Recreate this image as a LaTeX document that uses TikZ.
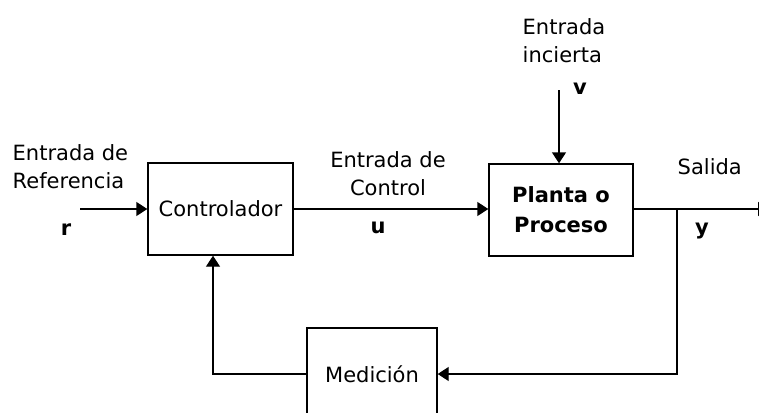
\documentclass[tikz,border=0pt]{standalone}
\usepackage{fontspec}
\setmainfont{DejaVu Sans}
\usetikzlibrary{arrows.meta,calc}

\begin{document}
\begin{tikzpicture}[x=0.5pt,y=-0.5pt,line width=0.7pt,
    font=\fontsize{10.5}{14}\selectfont,
    >={Triangle[length=5.5pt,width=7pt]},
    block/.style={draw,minimum height=46pt},
    lbl/.style={inner sep=0pt,align=left},
    sig/.style={inner sep=0pt,font=\fontsize{10.5}{14}\selectfont\bfseries}]
  \useasboundingbox (0,0) rectangle (759,412);
  \clip (0,0) rectangle (759,412);

  % draw the blocks first
  \node [block,minimum width=72.5pt] (ctrl) at (220.5,209) {Controlador};
  \node [block,minimum width=72pt,align=center,font=\fontsize{10.5}{15}\selectfont\bfseries]
    (plant) at (561,210) {Planta o\\Proceso};
  \node [block,minimum width=65pt] (med) at (372,374) {Medición};

  % free ends of the signals
  \coordinate (rin) at (80,209);
  \coordinate (vin) at (559,90);
  \coordinate (yb) at (677,209);
  \coordinate (yout) at (769,209);
  \coordinate (fb) at (213,0);

  % forward path
  \draw [->] (rin) -- (ctrl.west);
  \draw [->] (ctrl.east) -- (plant.west |- ctrl.east);
  \draw [->] (vin) -- (vin |- plant.north);
  \draw [->] (plant.east |- yb) -- (yout);

  % feedback path
  \draw [->] (yb) |- (med.east);
  \draw [->] (med.west) -| (fb |- ctrl.south);

  % texts and signal names
  \node [lbl,anchor=west] (refLbl) at (12,167) {Entrada de\\Referencia};
  \node [sig] (r) at (66,230) {r};
  \node [lbl,align=center] (ctlLbl) at (388,174) {Entrada de\\Control};
  \node [sig] (u) at (378,228) {u};
  \node [lbl,anchor=west] (inLbl) at (522,41) {Entrada\\incierta};
  \node [sig] (v) at (580,89) {v};
  \node [lbl,anchor=west] (outLbl) at (677,167) {Salida};
  \node [sig] (y) at (702,231) {y};
\end{tikzpicture}
\end{document}
